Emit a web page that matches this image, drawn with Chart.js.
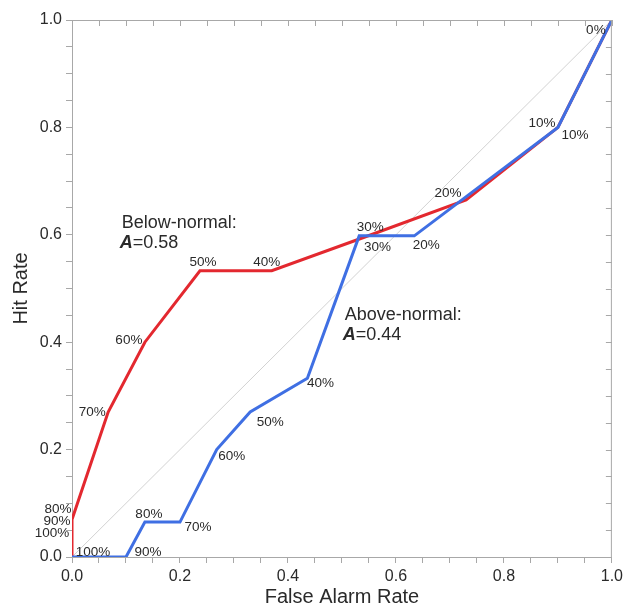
<!DOCTYPE html>
<html>
<head>
<meta charset="utf-8">
<script src="https://cdn.jsdelivr.net/npm/chart.js@4"></script>
<style>
  body { margin: 0; background: #fff; }
  #wrap { width: 627px; height: 607px; }
</style>
</head>
<body>
<div id="wrap"><canvas id="roc" width="627" height="607"></canvas></div>
<script>
// probability thresholds (one per point, both curves)
const thresholds = ['100%', '90%', '80%', '70%', '60%', '50%', '40%', '30%', '20%', '10%', '0%'];

// Below-normal curve (red)
const belowFalseAlarm = [0, 0, 0, 0.067, 0.135, 0.237, 0.37, 0.54, 0.73, 0.9, 1];
const belowHit = [0, 0.04, 0.07, 0.27, 0.40, 0.533, 0.533, 0.595, 0.665, 0.80, 1];

// Above-normal curve (blue)
const aboveFalseAlarm = [0, 0.1, 0.135, 0.2, 0.268, 0.33, 0.436, 0.532, 0.634, 0.9, 1];
const aboveHit = [0, 0, 0.065, 0.065, 0.2, 0.27, 0.333, 0.598, 0.598, 0.8, 1];

const areas = { below: '0.58', above: '0.44' };

// where each threshold label sits next to its point (px)
const belowLabelShift = [[-20, -24], [-15, -14], [-14, -10], [-16, 0], [-16, -2], [3, -8], [-5, -8], [14, 10], [-18, -7], [-16, -4], [-16, 10]];
const aboveLabelShift = [[21, -5], [22, -5], [4, -8], [18, 5], [15, 7], [20, 10], [13, 5], [11, -9], [12, 9], [17, 8], null];

const RED = '#e3282f';
const BLUE = '#3f6fe3';
const AXIS = '#a8a8a8';
const TEXT = '#2a2a2a';

function toPoints(xs, ys) {
    return xs.map((x, i) => ({ x: x, y: ys[i] }));
}

function isMajor(v) {
    return Math.abs(v * 5 - Math.round(v * 5)) < 1e-6;
}

const labelsPlugin = {
    id: 'rocLabels',
    afterDatasetsDraw(chart) {
        const ctx = chart.ctx;
        const xs = chart.scales.x;
        const ys = chart.scales.y;
        const area = chart.chartArea;

        // top and right frame with inward ticks
        ctx.save();
        ctx.strokeStyle = AXIS;
        ctx.lineWidth = 1;
        ctx.beginPath();
        ctx.moveTo(area.left, area.top + 0.5);
        ctx.lineTo(area.right, area.top + 0.5);
        ctx.moveTo(area.right - 0.5, area.top);
        ctx.lineTo(area.right - 0.5, area.bottom);
        xs.ticks.forEach(t => {
            const px = Math.round(xs.getPixelForValue(t.value)) + 0.5;
            ctx.moveTo(px, area.top);
            ctx.lineTo(px, area.top + 6);
        });
        ys.ticks.forEach(t => {
            const py = Math.round(ys.getPixelForValue(t.value)) + 0.5;
            ctx.moveTo(area.right, py);
            ctx.lineTo(area.right - 6, py);
        });
        ctx.stroke();

        // threshold labels
        ctx.fillStyle = TEXT;
        ctx.font = '13.5px "Liberation Sans", Arial, sans-serif';
        ctx.textAlign = 'center';
        ctx.textBaseline = 'middle';
        const series = [
            [belowFalseAlarm, belowHit, belowLabelShift],
            [aboveFalseAlarm, aboveHit, aboveLabelShift]
        ];
        series.forEach(([fx, hy, shift]) => {
            thresholds.forEach((lab, i) => {
                if (!shift[i]) return;
                const px = xs.getPixelForValue(fx[i]) + shift[i][0];
                const py = ys.getPixelForValue(hy[i]) + shift[i][1];
                ctx.fillText(lab, px, py);
            });
        });

        // area annotations
        const note = (x, y, title, val) => {
            const px = xs.getPixelForValue(x);
            const py = ys.getPixelForValue(y);
            ctx.textAlign = 'left';
            ctx.font = '18px "Liberation Sans", Arial, sans-serif';
            ctx.fillText(title, px, py);
            ctx.font = 'italic bold 18px "Liberation Sans", Arial, sans-serif';
            ctx.fillText('A', px - 2, py + 20);
            const w = ctx.measureText('A').width;
            ctx.font = '18px "Liberation Sans", Arial, sans-serif';
            ctx.fillText('=' + val, px - 2 + w, py + 20);
        };
        note(0.092, 0.622, 'Below-normal:', areas.below);
        note(0.505, 0.45, 'Above-normal:', areas.above);
        ctx.restore();
    }
};

const tickFont = { family: '"Liberation Sans", Arial, sans-serif', size: 16 };
const titleFont = { family: '"Liberation Sans", Arial, sans-serif', size: 20, lineHeight: 1 };

new Chart(document.getElementById('roc').getContext('2d'), {
    type: 'scatter',
    data: {
        datasets: [
            {
                label: 'No skill',
                data: [{ x: 0, y: 0 }, { x: 1, y: 1 }],
                showLine: true,
                borderColor: '#d2d2d2',
                borderWidth: 1,
                pointRadius: 0,
                order: 3
            },
            {
                label: 'Below-normal',
                data: toPoints(belowFalseAlarm, belowHit),
                showLine: true,
                borderColor: RED,
                borderWidth: 3,
                pointRadius: 0,
                order: 2
            },
            {
                label: 'Above-normal',
                data: toPoints(aboveFalseAlarm, aboveHit),
                showLine: true,
                borderColor: BLUE,
                borderWidth: 3,
                pointRadius: 0,
                order: 1
            }
        ]
    },
    options: {
        responsive: false,
        animation: false,
        layout: { padding: { left: 0, right: 14, top: 20, bottom: 0 }, autoPadding: false },
        plugins: {
            legend: { display: false },
            tooltip: { enabled: false }
        },
        scales: {
            x: {
                type: 'linear',
                min: 0,
                max: 1,
                afterFit: s => { s.height = 50; },
                border: { display: true, color: AXIS },
                grid: { drawOnChartArea: false, drawTicks: true, tickLength: 6, color: AXIS },
                ticks: {
                    stepSize: 0.05,
                    autoSkip: false,
                    maxRotation: 0,
                    padding: 4,
                    color: TEXT,
                    font: tickFont,
                    callback: v => isMajor(v) ? v.toFixed(1) : ''
                },
                title: { display: true, text: 'False Alarm Rate', color: TEXT, font: titleFont, padding: 0 }
            },
            y: {
                type: 'linear',
                min: 0,
                max: 1,
                afterFit: s => { s.width = 72; },
                border: { display: true, color: AXIS },
                grid: { drawOnChartArea: false, drawTicks: true, tickLength: 6, color: AXIS },
                ticks: {
                    stepSize: 0.05,
                    autoSkip: false,
                    padding: 4,
                    color: TEXT,
                    font: tickFont,
                    callback: v => isMajor(v) ? v.toFixed(1) : ''
                },
                title: { display: true, text: 'Hit Rate', color: TEXT, font: titleFont, padding: { top: 11, bottom: 0 } }
            }
        }
    },
    plugins: [labelsPlugin]
});
</script>
</body>
</html>
